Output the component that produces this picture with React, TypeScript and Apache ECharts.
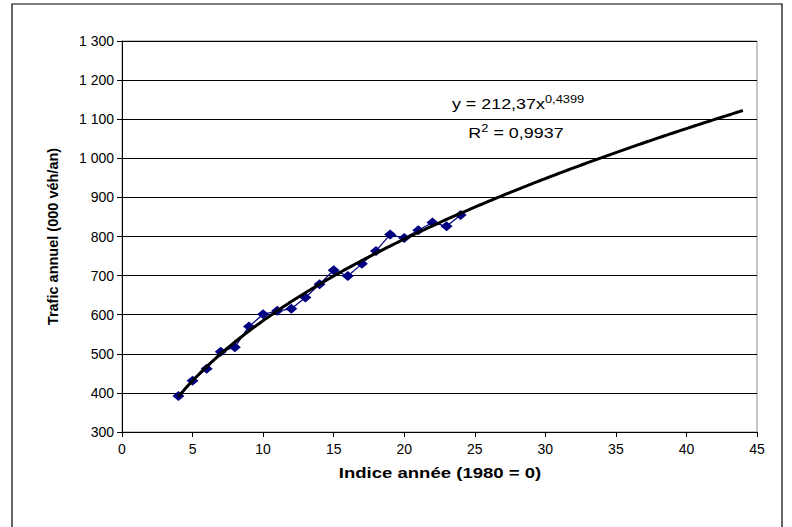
import React, { useEffect, useRef } from "react";
import * as echarts from "echarts";

const years: number[] = [4, 5, 6, 7, 8, 9, 10, 11, 12, 13, 14, 15, 16, 17, 18, 19, 20, 21, 22, 23, 24];
const traffic: number[] = [392, 431, 462, 505, 517, 570, 601, 610, 615, 644, 678, 714, 699, 730, 763, 805, 796, 816, 836, 826, 855];

// Power trendline shown on the chart: y = 212,37 x^0,4399 (R² = 0,9937), forecast to x = 44
const trendCoef = 212.37;
const trendExp = 0.4399;
const trendStart = 4;
const trendEnd = 44;

const xTicks = [0, 5, 10, 15, 20, 25, 30, 35, 40, 45];
const yTicks = [300, 400, 500, 600, 700, 800, 900, 1000, 1100, 1200, 1300];

const xTitle = "Indice année (1980 = 0)";
const yTitle = "Trafic annuel (000 véh/an)";

const FONT = "Liberation Sans, Arial, sans-serif";
const STRETCH = 1.28;

export default function App() {
  const ref = useRef<HTMLDivElement>(null);
  useEffect(() => {
    if (!ref.current) return;
    const chart = echarts.init(ref.current, undefined, { renderer: "svg" });
    const trend: number[][] = [];
    for (let i = 0; i <= 200; i++) {
      const x = trendStart + ((trendEnd - trendStart) * i) / 200;
      trend.push([x, trendCoef * Math.pow(x, trendExp)]);
    }
    const scatter = years.map((x, i) => [x, traffic[i]]);
    const fmt = (v: number) => {
      const s = String(Math.round(v));
      return s.length > 3 ? s.slice(0, s.length - 3) + " " + s.slice(s.length - 3) : s;
    };
    const rich = {
      a: { fontFamily: FONT, fontSize: 14, fill: "#000", verticalAlign: "bottom", lineHeight: 16 },
      s: { fontFamily: FONT, fontSize: 10, fill: "#000", verticalAlign: "top", padding: [0, 0, 9, 0], lineHeight: 16 },
    };
    chart.setOption({
      animation: false,
      backgroundColor: "#ffffff",
      textStyle: { fontFamily: FONT },
      grid: {
        left: 122,
        right: 35,
        top: 41,
        bottom: 95,
        show: true,
        borderColor: "#8c8c8c",
        borderWidth: 1,
        backgroundColor: "#ffffff",
      },
      xAxis: {
        type: "value",
        min: xTicks[0],
        max: xTicks[xTicks.length - 1],
        interval: 5,
        axisLine: { show: true, lineStyle: { color: "#000", width: 1 } },
        axisTick: { show: true, inside: false, length: 5, lineStyle: { color: "#000" } },
        axisLabel: { fontFamily: FONT, fontSize: 14, color: "#000", margin: 10 },
        splitLine: { show: false },
      },
      yAxis: {
        type: "value",
        min: yTicks[0],
        max: yTicks[yTicks.length - 1],
        interval: 100,
        name: yTitle,
        nameLocation: "middle",
        nameGap: 62,
        nameRotate: 90,
        nameTextStyle: { fontFamily: FONT, fontSize: 14.5, fontWeight: "bold", color: "#000" },
        axisLine: { show: true, lineStyle: { color: "#000", width: 1 } },
        axisTick: { show: true, inside: false, length: 5, lineStyle: { color: "#000" } },
        axisLabel: { fontFamily: FONT, fontSize: 14, color: "#000", margin: 8, formatter: fmt },
        splitLine: { show: true, lineStyle: { color: "#000", width: 1 } },
      },
      graphic: [
        {
          type: "rect",
          shape: { x: 12, y: 4, width: 770, height: 540 },
          style: { fill: "none", stroke: "#000", lineWidth: 1.2 },
          silent: true,
          z: -10,
        },
        {
          type: "text",
          x: 440,
          y: 473,
          scaleX: STRETCH,
          style: {
            text: xTitle,
            fontFamily: FONT,
            fontSize: 14.5,
            fontWeight: "bold",
            fill: "#000",
            align: "center",
            verticalAlign: "middle",
          },
          z: 100,
        },
        {
          type: "text",
          x: 518,
          y: 103,
          scaleX: STRETCH,
          style: {
            text: "{a|y = 212,37x}{s|0,4399}",
            rich,
            align: "center",
            verticalAlign: "middle",
          },
          z: 100,
        },
        {
          type: "text",
          x: 516,
          y: 132,
          scaleX: STRETCH,
          style: {
            text: "{a|R}{s|2}{a| = 0,9937}",
            rich,
            align: "center",
            verticalAlign: "middle",
          },
          z: 100,
        },
      ],
      series: [
        {
          type: "line",
          name: "Trafic",
          data: scatter,
          symbol: "diamond",
          symbolSize: [12, 10],
          itemStyle: { color: "#000080" },
          lineStyle: { color: "#000080", width: 1.2 },
          z: 2,
        },
        {
          type: "line",
          name: "Tendance",
          data: trend,
          symbol: "none",
          smooth: false,
          lineStyle: { color: "#000", width: 3 },
          z: 3,
        },
      ],
    });
    return () => chart.dispose();
  }, []);
  return <div ref={ref} style={{ width: 792, height: 527, position: "absolute", left: 0, top: 0 }} />;
}
